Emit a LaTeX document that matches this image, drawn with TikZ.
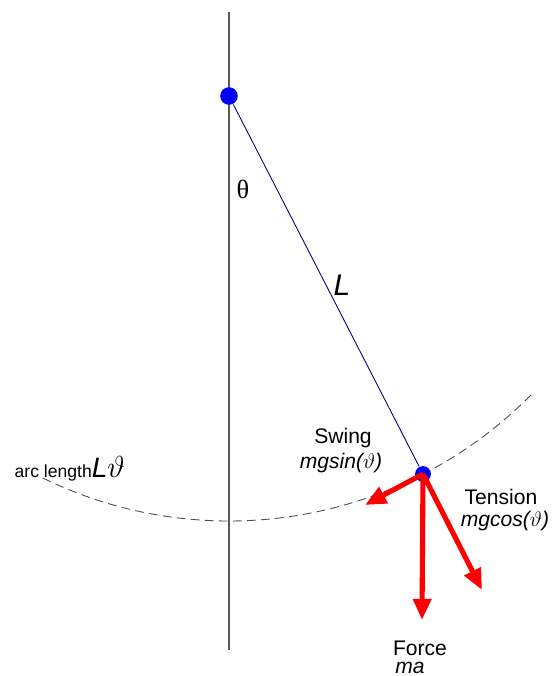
\documentclass[tikz,border=0pt]{standalone}
\usepackage{fontspec}
\setmainfont{Liberation Sans}
\newfontfamily\thetafont{Liberation Serif}
\usetikzlibrary{arrows.meta,positioning,calc}
\tikzset{every picture/.style={line width=0.75pt}}
\tikzset{
  mass/.style={circle, fill=blue, inner sep=0pt},
  force/.style={red, line width=2.9pt, -{Triangle[length=12pt,width=10pt]}},
  lbl/.style={font=\fontsize{12}{14}\selectfont, inner sep=0pt},
  lblit/.style={font=\fontsize{12}{14}\selectfont\itshape, inner sep=0pt},
}

\begin{document}
\begin{tikzpicture}[x=0.02cm, y=-0.02cm]
    \useasboundingbox (0,0) rectangle (554,676);

    % vertical reference line
    \draw[gray!70!black, line width=0.6pt] (229,12) -- (229,650);

    % swing path of the bob (radius 425 px = 8.5cm)
    \draw[gray!60!black, dash pattern=on 5pt off 3pt, line width=0.5pt]
        (229,96) ++(116:425) arc[start angle=244, end angle=316, radius=8.5cm];

    % pivot and bob
    \node[mass, minimum size=10pt] (pivot) at (229,96) {};
    \node[mass, minimum size=9pt] (bob) at (423,474) {};
    \draw[blue!50!black, line width=0.5pt] (pivot) -- (bob);

    % force arrows
    \coordinate (swingend) at (365,505);
    \coordinate (forceend) at (422,620);
    \coordinate (tensionend) at (482,590);
    \foreach \e in {swingend, forceend, tensionend}
        \draw[force] (bob.center) -- (\e);

    % labels
    \node[inner sep=0pt, font=\fontsize{15}{16}\selectfont\thetafont] (angle) at (243,189) {θ};
    \node[inner sep=0pt, font=\fontsize{17}{18}\selectfont\itshape] (len) at (342,285) {L};
    \node[lbl] (swing) at (343,438) {Swing};
    \node[lblit] (swingval) at (341,463) {mgsin($\vartheta$)};
    \node[lbl] (tension) at (501,497) {Tension};
    \node[lblit] (tensionval) at (505,521) {mgcos($\vartheta$)};
    \node[lbl] (force) at (420,648) {Force};
    \node[lblit] (forceval) at (410,668) {ma};
    \node[anchor=base west, inner sep=0pt] (arc) at (14,477)
        {\fontsize{10}{12}\selectfont arc length\fontsize{16}{18}\selectfont\itshape L$\vartheta$};
\end{tikzpicture}
\end{document}
